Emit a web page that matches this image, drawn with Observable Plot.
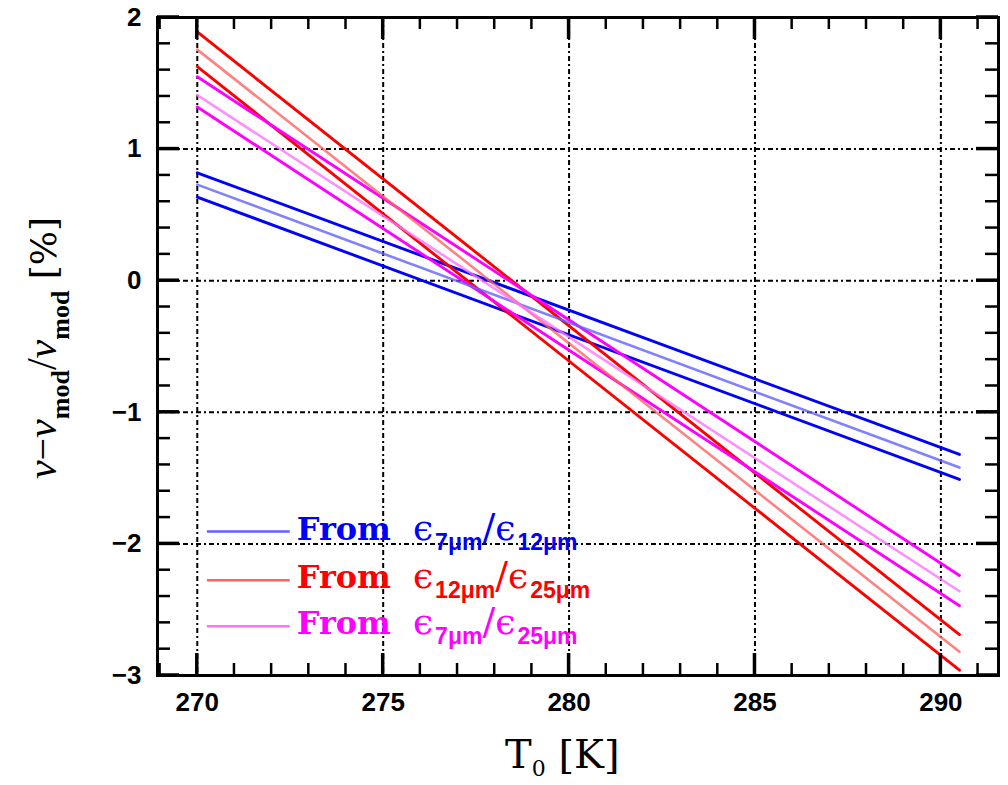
<!DOCTYPE html>
<html>
<head>
<meta charset="utf-8">
<script src="https://cdn.jsdelivr.net/npm/d3@7"></script>
<script src="https://cdn.jsdelivr.net/npm/@observablehq/plot@0.6"></script>
<style>
  body { margin: 0; background: #fff; }
  #chart { position: absolute; left: 0; top: 0; }
</style>
</head>
<body>
<div id="chart"></div>
<script>
// Temperature range covered by every relation (K)
const temperatures = [270, 290.5];

// Deviation (ν − ν_mod)/ν_mod in %, at the two ends of the temperature range:
// upper bound, central value, lower bound for each emissivity ratio
const blueLines    = [[0.82, -1.32], [0.73, -1.42], [0.635, -1.51]];   // ε7μm / ε12μm
const redLines     = [[1.89, -2.69], [1.756, -2.82], [1.626, -2.96]];  // ε12μm / ε25μm
const magentaLines = [[1.55, -2.24], [1.41, -2.36], [1.32, -2.47]];    // ε7μm / ε25μm

const seriesNames  = ["blue", "red", "magenta"];
const seriesColors = ["#0000ff", "#ff0000", "#ff00ff"];
const centralColors = ["#6262ff", "#ff6262", "#ff72ff"];
const seriesSubA = ["7μm", "12μm", "7μm"];
const seriesSubB = ["12μm", "25μm", "25μm"];
const legendY = [-1.91, -2.28, -2.63];
const legendX = [270.27, 272.5];

const xDomain = [268.93, 291.55];
const yDomain = [-3, 2];
const xMajor = [270, 275, 280, 285, 290];
const xMinor = [269, 271, 272, 273, 274, 276, 277, 278, 279, 281, 282, 283, 284, 286, 287, 288, 289, 291];
const yMajor = [-3, -2, -1, 0, 1, 2];
const yMinor = [-2.8, -2.6, -2.4, -2.2, -1.8, -1.6, -1.4, -1.2, -0.8, -0.6, -0.4, -0.2,
                0.2, 0.4, 0.6, 0.8, 1.2, 1.4, 1.6, 1.8];
const xGrid = [270, 275, 280, 285, 290];
const yGrid = [-2, -1, 0, 1];

const W = 1008, H = 785;
const margin = {left: 157, right: 10, top: 17, bottom: 110};

// Long-format rows for the line marks
const rows = [];
[blueLines, redLines, magentaLines].forEach((set, s) => {
  set.forEach((vals, k) => {
    vals.forEach((v, i) => rows.push({
      t: temperatures[i], v, id: seriesNames[s] + k, central: k === 1,
      color: k === 1 ? centralColors[s] : seriesColors[s]
    }));
  });
});

const gridStyle = {stroke: "#000", strokeWidth: 2, strokeDasharray: "5,3,2,3"};

const plot = Plot.plot({
  width: W,
  height: H,
  marginLeft: margin.left,
  marginRight: margin.right,
  marginTop: margin.top,
  marginBottom: margin.bottom,
  x: {domain: xDomain},
  y: {domain: yDomain},
  color: {type: "identity"},
  style: {fontFamily: "Liberation Sans, Arial, sans-serif", fontSize: "26px", fontWeight: "bold", color: "#000", background: "#fff"},
  marks: [
    Plot.ruleX(xGrid, {...gridStyle}),
    Plot.ruleY(yGrid, {...gridStyle}),
    Plot.line(rows.filter(d => !d.central), {x: "t", y: "v", z: "id", stroke: "color", strokeWidth: 2.9}),
    Plot.line(rows.filter(d => d.central), {x: "t", y: "v", z: "id", stroke: "color", strokeWidth: 2.6, strokeOpacity: 0.8}),
    // tick labels
    Plot.axisX({anchor: "bottom", ticks: xMajor, tickSize: 0, tickPadding: 17, label: null}),
    Plot.axisY({anchor: "left", ticks: yMajor, tickSize: 0, tickPadding: 16, tickFormat: d3.format("d"), label: null}),
    Plot.frame({stroke: "#000", strokeWidth: 3})
  ]
});

document.getElementById("chart").appendChild(plot);

const sx = v => plot.scale("x").apply(v);
const sy = v => plot.scale("y").apply(v);
const svg = d3.select(plot);
const frameLeft = sx(xDomain[0]), frameRight = sx(xDomain[1]);
const frameBottom = sy(yDomain[0]), frameTop = sy(yDomain[1]);

// Inward ticks on all four sides of the frame, placed with the plot's scales
const tickLayer = svg.append("g");
function addSeg(ax, ay, bx, by, w) {
  tickLayer.append("line")
    .attr("x1", ax).attr("y1", ay).attr("x2", bx).attr("y2", by)
    .attr("stroke", "#000").attr("stroke-width", w);
}
function xTicks(values, len, w) {
  for (const v of values) {
    const px = sx(v);
    addSeg(px, frameBottom, px, frameBottom - len, w);
    addSeg(px, frameTop, px, frameTop + len, w);
  }
}
function yTicks(values, len, w) {
  for (const v of values) {
    const py = sy(v);
    addSeg(frameLeft, py, frameLeft + len, py, w);
    addSeg(frameRight, py, frameRight - len, py, w);
  }
}
xTicks(xMinor, 12, 2.5);
yTicks(yMinor, 13, 2.5);
xTicks(xMajor, 22, 3.5);
yTicks(yMajor, 22, 3.5);

// Draws a text made of styled runs (for subscripts)
function richText(g, parts) {
  const t = g.append("text").attr("text-anchor", "start");
  parts.forEach(p => {
    const s = t.append("tspan").text(p.text);
    if (p.dy) s.attr("dy", p.dy);
    if (p.dx) s.attr("dx", p.dx);
    s.attr("font-size", p.size).attr("font-family", p.family || "DejaVu Serif, serif")
     .attr("font-weight", p.weight || "normal").attr("font-style", p.style || "normal");
  });
  return t;
}

// Legend inside the plot frame
const legend = svg.append("g");
seriesNames.forEach((name, i) => {
  legend.append("line")
    .attr("x1", sx(legendX[0])).attr("x2", sx(legendX[1]))
    .attr("y1", sy(legendY[i])).attr("y2", sy(legendY[i]))
    .attr("stroke", centralColors[i]).attr("stroke-width", 2.4);
  const g = legend.append("g")
    .attr("transform", `translate(${sx(legendX[1]) + 7},${sy(legendY[i]) + 8})`)
    .attr("fill", seriesColors[i]);
  richText(g, [
    {text: "From", size: 32, weight: "bold"},
    {text: "ϵ", size: 36, dx: 22},
    {text: seriesSubA[i], size: 23, weight: "bold", family: "Liberation Sans", dy: 10, dx: 2},
    {text: "/", size: 38, dy: -10},
    {text: "ϵ", size: 36},
    {text: seriesSubB[i], size: 23, weight: "bold", family: "Liberation Sans", dy: 10, dx: 2}
  ]);
});

// x-axis title
const xt = svg.append("g").attr("transform", "translate(505,768)").attr("fill", "#000");
richText(xt, [
  {text: "T", size: 40},
  {text: "0", size: 22, dy: 8},
  {text: " [K]", size: 40, dy: -8}
]);

// y-axis title, rotated
const yt = svg.append("g").attr("transform", "translate(56,348) rotate(-90)").attr("fill", "#000");
richText(yt, [
  {text: "ν", size: 42, family: "Liberation Serif", style: "italic"},
  {text: "−", size: 40, family: "Liberation Serif"},
  {text: "ν", size: 42, family: "Liberation Serif", style: "italic"},
  {text: "mod", size: 26, family: "Liberation Serif", weight: "bold", dy: 13},
  {text: "/", size: 42, family: "Liberation Serif", dy: -13},
  {text: "ν", size: 42, family: "Liberation Serif", style: "italic"},
  {text: "mod", size: 26, family: "Liberation Serif", weight: "bold", dy: 13},
  {text: " [%]", size: 36, dy: -13}
]).attr("text-anchor", "middle");
</script>
</body>
</html>
